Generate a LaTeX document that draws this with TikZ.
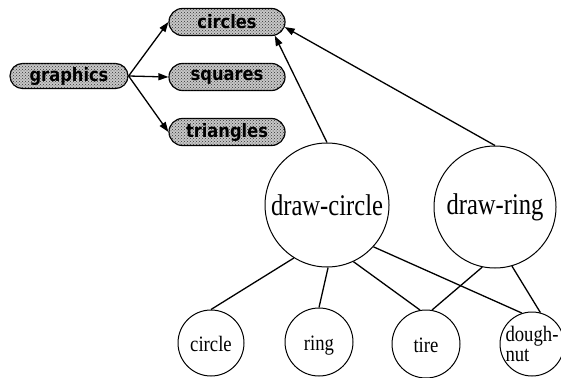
\documentclass[tikz,border=0pt]{standalone}
\usepackage{fontspec}
\usetikzlibrary{shapes.misc,arrows.meta,patterns}
\newfontfamily\pillfont{DejaVu Sans}[FakeStretch=0.88]
\newfontfamily\bigfont{Liberation Serif}[FakeStretch=0.82]
\newfontfamily\smallfont{Liberation Serif}[FakeStretch=0.85]
\tikzset{
  pill/.style={rounded rectangle, draw=black, line width=1.2pt,
    fill=black!22, postaction={pattern=crosshatch dots, pattern color=black!80},
    minimum width=116pt, minimum height=27pt, inner sep=0pt,
    font=\pillfont\bfseries\fontsize{18.5}{18.5}\selectfont},
  bigcirc/.style={circle, draw=black, line width=1pt, minimum size=124pt, inner sep=0pt,
    font=\bigfont\fontsize{30}{30}\selectfont},
  smallcirc/.style={circle, draw=black, line width=1pt, minimum size=68pt, inner sep=0pt,
    text height=16pt, text depth=0pt,
    font=\smallfont\fontsize{22}{22}\selectfont},
  arr/.style={line width=1.3pt, -{Triangle[length=10pt,width=7pt]}},
  link/.style={line width=1.3pt}
}
\begin{document}
\begin{tikzpicture}[x=1pt,y=-1pt]
\useasboundingbox (0,0) rectangle (561,377);

% class hierarchy
\node[pill, minimum width=118pt, minimum height=25pt] (graphics) at (69,76) {graphics};
\node[pill] (circles)   at (227,22)  {circles};
\node[pill] (squares)   at (227,77)  {squares};
\node[pill] (triangles) at (227,132) {triangles};

\draw[arr] (graphics.east) -- (circles.west);
\draw[arr] (graphics.east) -- (squares.west);
\draw[arr] (graphics.east) -- (triangles.west);

% methods
\node[bigcirc] (dcircle) at (327,205) {draw-circle};
\node[bigcirc, minimum size=122pt] (dring) at (495,207) {draw-ring};

\draw[arr] (dcircle.north) -- (circles.-16);
\draw[arr] (dring.north) -- (circles.-5);

% instances
\node[smallcirc, minimum size=66pt] (circ) at (211,343) {circle};
\node[smallcirc] (ring) at (319,342) {ring};
\node[smallcirc] (tire) at (426,344) {tire};
\node[smallcirc, minimum size=64pt, align=left, text height=, text depth=,
  font=\smallfont\fontsize{22}{24}\selectfont]
  (dough) at (532,344) {\raisebox{-4pt}{dough-}\\nut};

\draw[link] (dcircle.-122) -- (circ.north);
\draw[link] (dcircle.-89)  -- (ring.north);
\draw[link] (dcircle.-65)  -- (tire.100);
\draw[link] (dcircle.-42)  -- (dough.108);
\draw[link] (dring.-102)   -- (tire.80);
\draw[link] (dring.-74)    -- (dough.75);
\end{tikzpicture}
\end{document}
